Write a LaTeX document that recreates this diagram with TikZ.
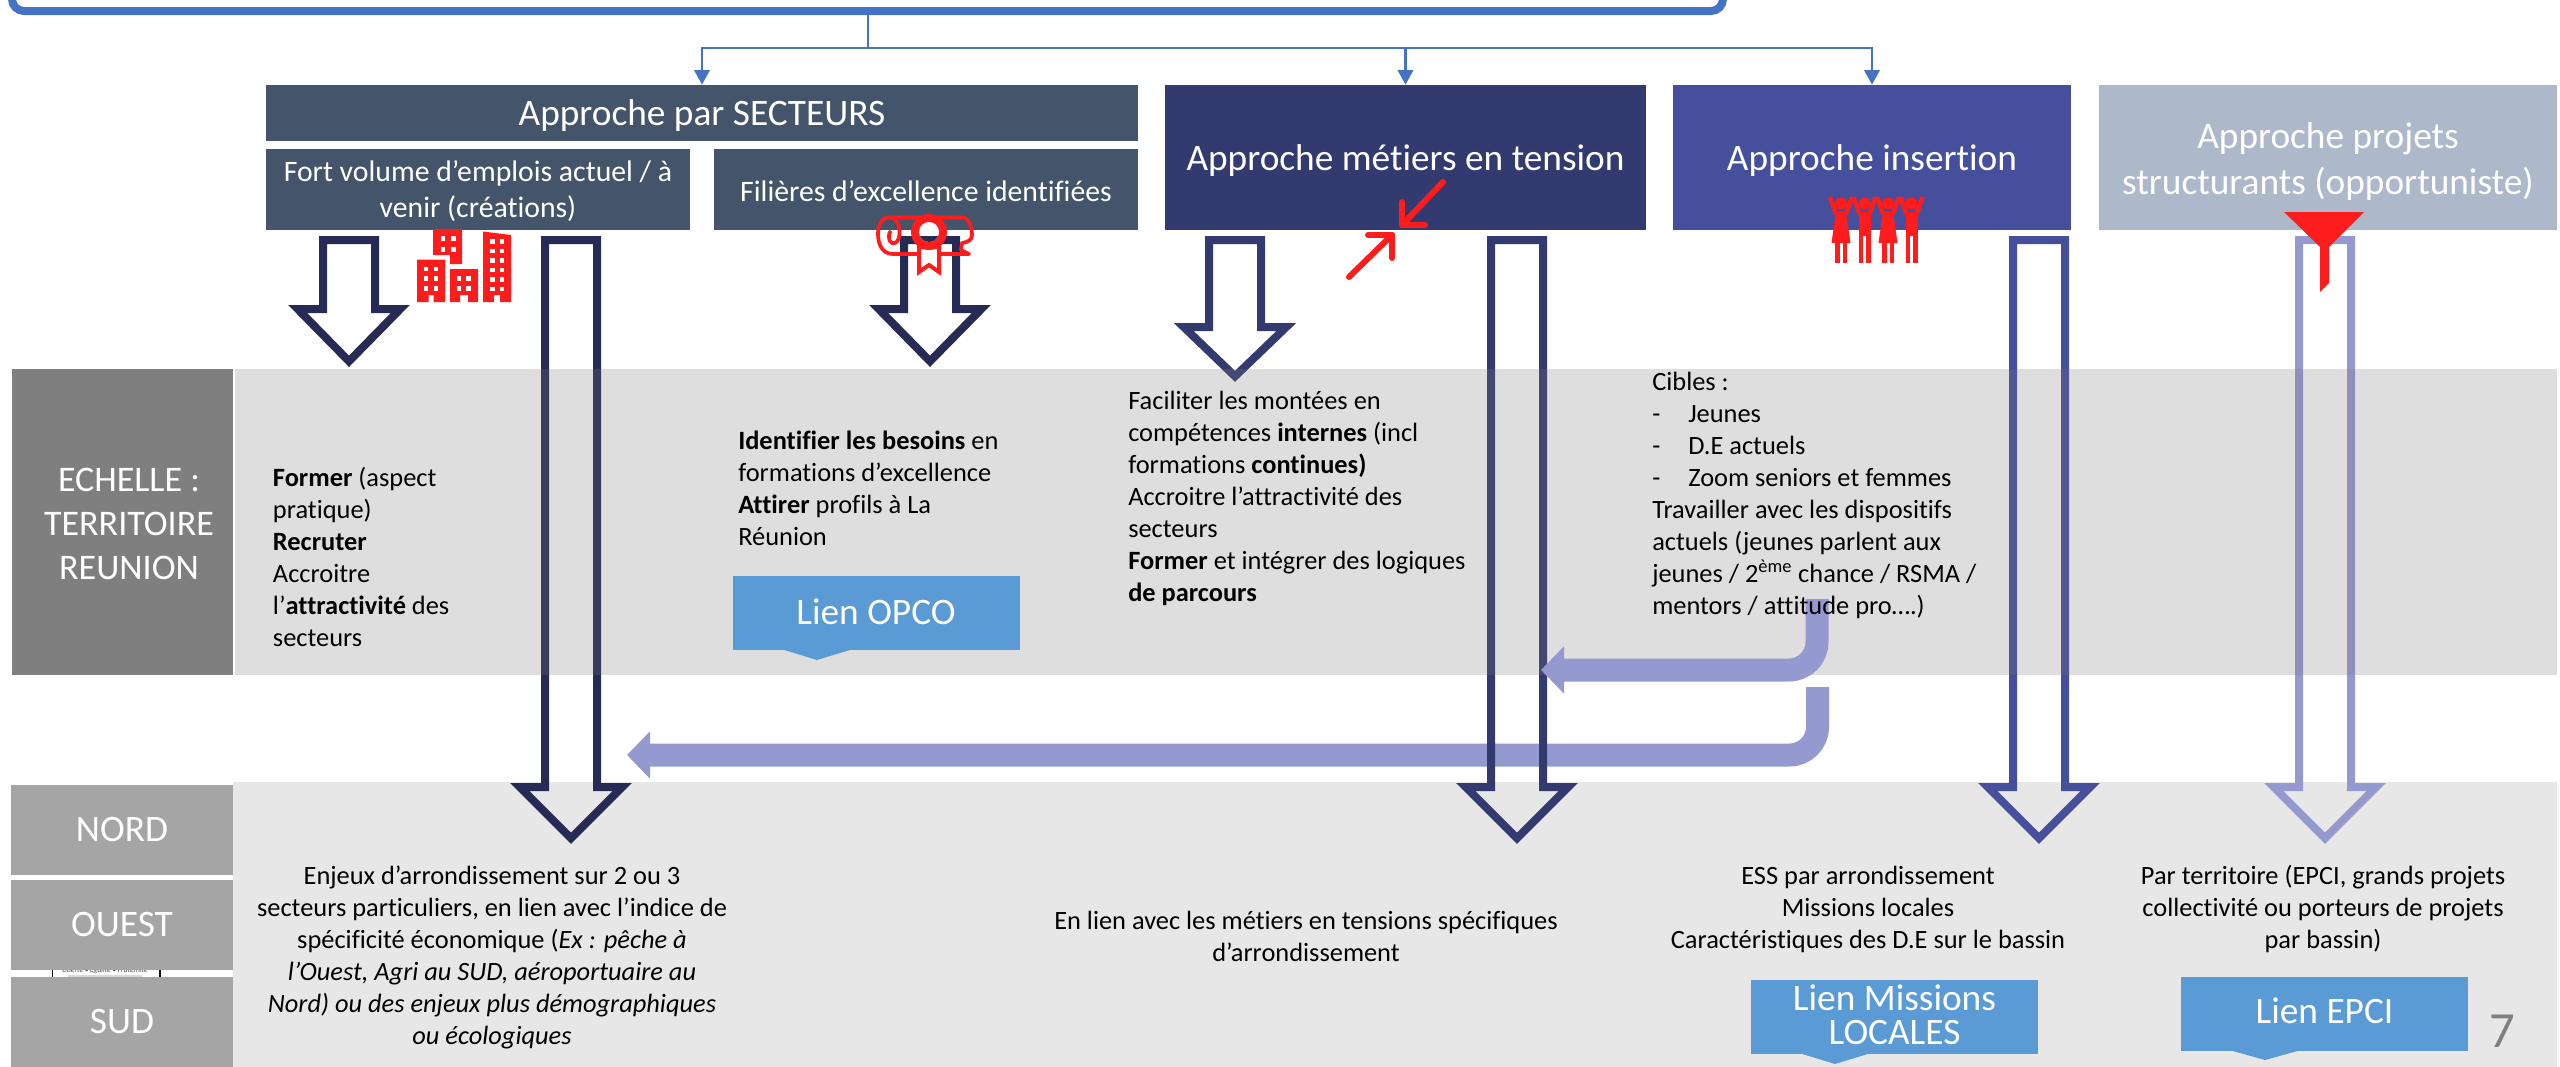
\documentclass[tikz,border=0pt]{standalone}
\usepackage{fontspec}
\setmainfont[Ligatures=NoCommon]{Carlito}
\usetikzlibrary{arrows.meta}
\definecolor{topblue}{HTML}{4472C4}
\definecolor{slate}{HTML}{44546A}
\definecolor{navyA}{HTML}{333A70}
\definecolor{navyB}{HTML}{464F9C}
\definecolor{greyblue}{HTML}{ADB9CA}
\definecolor{arrowA}{HTML}{262B55}
\definecolor{purpleL}{HTML}{9499D0}
\definecolor{bandA}{HTML}{787878}
\definecolor{bandB}{HTML}{E7E7E7}
\definecolor{sideA}{HTML}{7F7F7F}
\definecolor{sideB}{HTML}{A5A5A5}
\definecolor{lienblue}{HTML}{5B9BD5}
\definecolor{iconred}{HTML}{FF1C1C}
\newdimen\px \px=0.75pt
\newcommand{\bodyfont}{\fontsize{19.8}{24}\selectfont}
\newcommand{\headfont}{\fontsize{28}{34}\selectfont}
\newcommand{\subfont}{\fontsize{22.3}{27}\selectfont}
\newcommand{\sidefont}{\fontsize{28}{33}\selectfont}
% block arrow: colour, centre, outer stem half-width, outer head half-width, top, shoulder, tip
\newcommand{\blockarrow}[7]{%
  \draw[blockline,draw=#1]
    ({#2-#3+4},{#5+4}) -- ({#2-#3+4},{#6+4}) -- ({#2-#4+9.7},{#6+4}) -- ({#2},{#7-5.7})
    -- ({#2+#4-9.7},{#6+4}) -- ({#2+#3-4},{#6+4}) -- ({#2+#3-4},{#5+4}) -- cycle;}
\newcommand{\window}[2]{\fill[white] ({#1},{#2}) rectangle ++(4.6,4.6);}
\tikzset{
  x=0.75pt,y=-0.75pt,
  blockline/.style={line width=6pt,miter limit=10,line join=miter},
  panel/.style={inner sep=0pt},
  hlabel/.style={inner sep=0pt,align=center,text=white,font=\headfont},
  slabel/.style={inner sep=0pt,align=center,text=white,font=\subfont},
  side/.style={fill=sideB,inner sep=0pt,text=white,font=\sidefont,minimum width=222\px,minimum height=90\px},
  bodyl/.style={inner sep=0pt,align=left,anchor=west,font=\bodyfont,text=black},
  bodyc/.style={inner sep=0pt,align=center,font=\bodyfont,text=black},
  lien/.style={fill=lienblue,inner sep=0pt,minimum width=287\px,minimum height=74\px},
  wire/.style={draw=topblue,line width=2pt,-{Triangle[length=11pt,width=11.5pt]}},
  wirep/.style={draw=topblue,line width=2pt},
  flow/.style={draw=purpleL,line width=17.25pt,rounded corners=21pt,-{Triangle[length=17.25pt,width=34.5pt]}},
  iconline/.style={draw=iconred,line width=4.5pt,line cap=round,line join=round},
}
\begin{document}
\begin{tikzpicture}
\useasboundingbox (0,0) rectangle (2560,1067);
\clip (0,0) rectangle (2560,1067);

% bands
\fill[bandB] (233,782) rectangle (2557,1067);

% header boxes
\node[draw=topblue,line width=6pt,rounded corners=9pt,minimum width=1711\px,minimum height=211\px,inner sep=0pt] (top) at (867.5,-94.5) {};
\node[panel,fill=slate,minimum width=872\px,minimum height=56\px] (secteurs) at (702,113) {};
\node[panel,fill=slate,minimum width=424\px,minimum height=81\px] (fort) at (478,189.5) {};
\node[panel,fill=slate,minimum width=424\px,minimum height=81\px] (filieres) at (926,189.5) {};
\node[panel,fill=navyA,minimum width=481\px,minimum height=145\px] (metiers) at (1405.5,157.5) {};
\node[panel,fill=navyB,minimum width=398\px,minimum height=145\px] (insertion) at (1872,157.5) {};
\node[panel,fill=greyblue,minimum width=458\px,minimum height=145\px] (projets) at (2328,157.5) {};
\node[hlabel] (secteursT) at ([yshift=-2.2pt]secteurs.center) {Approche par SECTEURS};
\node[slabel] (fortT) at ([yshift=-1.2pt]fort.center) {Fort volume d’emplois actuel / à\\venir (créations)};
\node[slabel] (filieresT) at ([yshift=-1.2pt]filieres.center) {Filières d’excellence identifiées};
\node[hlabel] (metiersT) at ([yshift=-2.2pt]metiers.center) {Approche métiers en tension};
\node[hlabel] (insertionT) at ([yshift=-2.2pt]insertion.center) {Approche insertion};
\node[hlabel] (projetsT) at ([yshift=-3pt]projets.center) {Approche projets\\structurants (opportuniste)};

% blue connectors
\coordinate (junction) at (868,48);
\draw[wirep] (junction |- top.south) -- (junction);
\draw[wire] (junction) -| (secteurs.north);
\draw[wire] (junction) -| (metiers.north);
\draw[wire] (junction) -| (insertion.north);

% lower purple connector (runs beneath the long arrows)
\coordinate (flowBstart) at (1817.5,687);
\coordinate (flowBend) at (627,755);
\draw[flow] (flowBstart) |- (flowBend);

% block arrows
\blockarrow{arrowA}{349}{30}{61}{236}{305}{367}
\blockarrow{arrowA}{571}{30}{61}{236}{783}{844}
\blockarrow{arrowA}{930}{30}{61}{236}{305}{367}
\blockarrow{navyA}{1235}{30}{61}{236}{323}{382}
\blockarrow{navyA}{1517}{30}{61}{236}{783}{844}
\blockarrow{navyB}{2039}{30}{61}{236}{783}{844}
\blockarrow{purpleL}{2325}{30}{61}{236}{783}{844}

% band 1 lies over the arrows
\fill[bandA,fill opacity=.245] (235,369) rectangle (2557,675);

% upper purple connector
\coordinate (flowAstart) at (1817,599);
\coordinate (flowAend) at (1541,670);
\draw[flow] (flowAstart) |- (flowAend);

% strip seen between OUEST and SUD
\fill[white] (52,968) rectangle (160,980);
\draw[black,line width=.8pt] (52.5,968) -- (52.5,980) (160,968) -- (160,980);
\begin{scope}
\clip (52,970) rectangle (160,977);
\node[inner sep=0pt,text=black!70,font=\fontsize{5.6}{6}\selectfont\itshape] (devise) at (105,970) {Liberté • Égalité • Fraternité};
\end{scope}
\fill[black!15] (68,975) rectangle (142,976.5);

% side labels
\node[panel,fill=sideA,minimum width=221\px,minimum height=306\px] (echelle) at (122.5,522) {};
\node[inner sep=0pt,align=center,text=white,font=\fontsize{27}{33}\selectfont] (echelleT) at (129,524) {ECHELLE :\\TERRITOIRE\\REUNION};
\node[side] (nord) at (122,830) {NORD};
\node[side] (ouest) at (122,925) {OUEST};
\node[side] (sud) at (122,1022) {SUD};

% band 1 texts
\node[bodyl] (t1) at (272.7,557) {\textbf{Former} (aspect\\pratique)\\\textbf{Recruter}\\Accroitre\\l’\textbf{attractivité} des\\secteurs};
\node[bodyl] (t2) at (738,488) {\textbf{Identifier les besoins} en\\formations d’excellence\\\textbf{Attirer} profils à La\\Réunion};
\node[bodyl] (t3) at (1128,498) {Faciliter les montées en\\compétences \textbf{internes} (incl\\formations \textbf{continues)}\\Accroitre l’attractivité des\\secteurs\\\textbf{Former} et intégrer des logiques\\\textbf{de parcours}};
\node[bodyl] (t4) at (1652,495) {Cibles :\\\makebox[27pt][l]{-}Jeunes\\\makebox[27pt][l]{-}D.E actuels\\\makebox[27pt][l]{-}Zoom seniors et femmes\\Travailler avec les dispositifs\\actuels (jeunes parlent aux\\jeunes / 2\textsuperscript{ème} chance / RSMA /\\mentors / attitude pro….)};

% band 2 texts
\node[bodyc] (t5) at (492,957) {Enjeux d’arrondissement sur 2 ou 3\\secteurs particuliers, en lien avec l’indice de\\spécificité économique (\textit{Ex : pêche à}\\\textit{l’Ouest, Agri au SUD, aéroportuaire au}\\\textit{Nord) ou des enjeux plus démographiques}\\\textit{ou écologiques}};
\node[bodyc] (t6) at (1306,936) {En lien avec les métiers en tensions spécifiques\\d’arrondissement};
\node[bodyc] (t7) at (1868,909) {ESS par arrondissement\\Missions locales\\Caractéristiques des D.E sur le bassin};
\node[bodyc] (t8) at (2323,909) {Par territoire (EPCI, grands projets\\collectivité ou porteurs de projets\\par bassin)};

% link callouts
\fill[lienblue] (781,649) -- (853,649) -- (817,660) -- cycle;
\node[lien] (opco) at (876,613) {};
\node[hlabel] (opcoT) at ([yshift=.8pt]opco.center) {Lien OPCO};
\fill[lienblue] (1799,1053) -- (1871,1053) -- (1835,1064) -- cycle;
\node[lien] (missions) at (1894.5,1017) {};
\node[hlabel,font=\fontsize{28}{25.7}\selectfont] (missionsT) at ([yshift=1.5pt]missions.center) {Lien Missions\\LOCALES};
\fill[lienblue] (2229,1050) -- (2301,1050) -- (2265,1060) -- cycle;
\node[lien] (epci) at (2324.5,1014) {};
\node[hlabel] (epciT) at ([yshift=2.2pt]epci.center) {Lien EPCI};
\node[inner sep=0pt,text=sideA,font=\fontsize{38}{42}\selectfont] (pagenum) at (2502,1031) {7};

% icon: buildings
\fill[iconred] (433,229) -- (462,229) -- (462,264) -- (450,264) -- (450,255) -- (433,255) -- cycle;
\fill[iconred] (417,259.5) -- (445,259.5) -- (445,302) -- (433.5,302) -- (433.5,295) -- (428.5,295) -- (428.5,302) -- (417,302) -- cycle;
\fill[iconred] (450,269) -- (478,269) -- (478,302) -- (468,302) -- (468,295) -- (460,295) -- (460,302) -- (450,302) -- cycle;
\fill[iconred] (483,231.5) -- (511,235) -- (511,302) -- (500,302) -- (500,295) -- (494,295) -- (494,302) -- (483,302) -- cycle;
\foreach \wx in {440.5,451}{\foreach \wy in {236,247}{\window{\wx}{\wy}}}
\foreach \wx in {423.5,433.5}{\foreach \wy in {266.5,276,286}{\window{\wx}{\wy}}}
\foreach \wx in {456.5,466}{\foreach \wy in {276,286}{\window{\wx}{\wy}}}
\foreach \wx in {490,499.5}{\foreach \wy in {239,248.5,258,267.5,277,286.5}{\window{\wx}{\wy}}}

% icon: diploma
\draw[draw=iconred,line width=2.8pt,line join=round] (890,217.5) -- (962,217.5) .. controls (969,217.5) and (972,228) .. (972,235) .. controls (972,240) and (968,242) .. (962,243) -- (961,250) -- (969,254) -- (893,254) .. controls (882,254) and (878,244) .. (878,234) .. controls (878,224) and (882,217.5) .. (890,217.5);
\draw[draw=iconred,line width=2.8pt] (890,217.5) .. controls (897,218) and (900,226) .. (899.5,234) .. controls (899,240) and (897,244) .. (892,243) .. controls (888,242) and (888,232) .. (891,231);
\draw[draw=iconred,fill=white,line width=3pt] (919,247) -- (919,272) -- (929,265) -- (939,272) -- (939,247) -- cycle;
\fill[iconred] (929,232) circle (18);
\fill[white] (929,232) circle (10);
\begin{scope}
\clip (929,232) circle (10);
\fill[arrowA] (900,236) rectangle (960,244);
\end{scope}

% icon: compression arrows
\draw[iconline] (1443,182) -- (1402,225);
\draw[iconline] (1402,202) -- (1402,225) -- (1425,225);
\draw[iconline] (1349,277) -- (1392,235);
\draw[iconline] (1368,235) -- (1392,235) -- (1392,258);

% icon: people
\foreach \cx in {1841,1888}{
  \fill[iconred] (\cx,203.5) circle (6);
  \draw[draw=iconred,line width=3.4pt] ({\cx-11},197) -- ({\cx-5},214) ({\cx+11},197) -- ({\cx+5},214);
  \fill[iconred] ({\cx-5},211.5) -- ({\cx+5},211.5) -- ({\cx+9.5},243) -- ({\cx-9.5},243) -- cycle;
  \fill[iconred] ({\cx-6},243) rectangle ({\cx-1.5},263);
  \fill[iconred] ({\cx+1.5},243) rectangle ({\cx+6},263);
}
\foreach \cx in {1864.5,1911.5}{
  \fill[iconred] (\cx,203.5) circle (6);
  \draw[draw=iconred,line width=3.4pt] ({\cx-11},197) -- ({\cx-5},214) ({\cx+11},197) -- ({\cx+5},214);
  \fill[iconred] ({\cx-6},211.5) rectangle ({\cx+6},236);
  \fill[iconred] ({\cx-6},236) rectangle ({\cx-1.5},263);
  \fill[iconred] ({\cx+1.5},236) rectangle ({\cx+6},263);
}

% icon: funnel
\fill[iconred] (2284,212) -- (2364,212) -- (2329,247) -- (2329,283) -- (2320,292) -- (2320,247) -- cycle;
\end{tikzpicture}
\end{document}
